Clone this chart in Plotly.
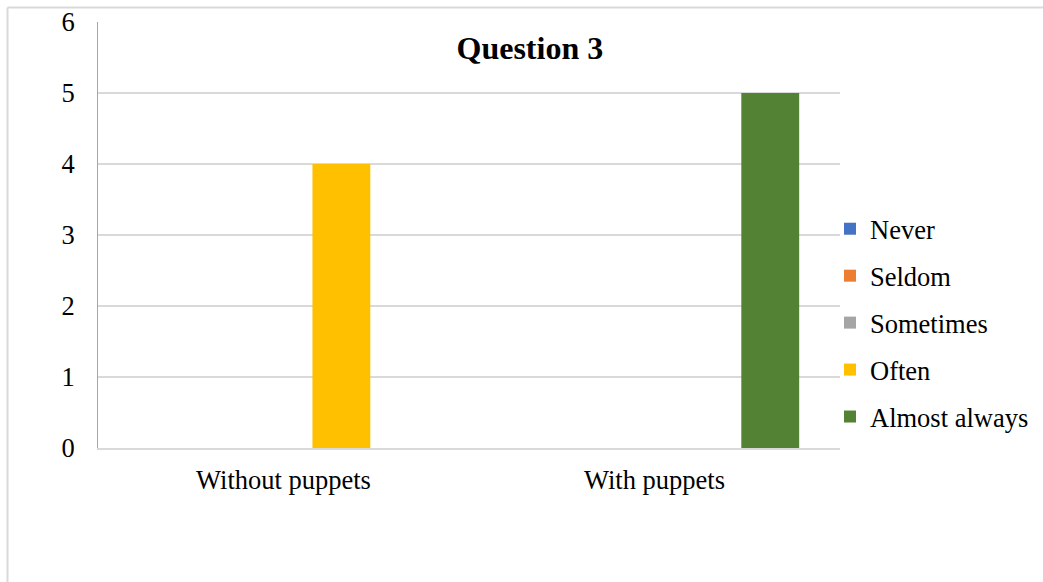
import plotly.graph_objects as go

# Survey responses for question 3, grouped by teaching condition
categories = ["Without puppets", "With puppets"]
series_names = ["Never", "Seldom", "Sometimes", "Often", "Almost always"]
never = [0, 0]
seldom = [0, 0]
sometimes = [0, 0]
often = [4, 0]
almost_always = [0, 5]
y_ticks = [0, 1, 2, 3, 4, 5, 6]

series_values = [never, seldom, sometimes, often, almost_always]
colors = ["#4472C4", "#ED7D31", "#A5A5A5", "#FFC000", "#548235"]

W, H = 1043, 582
FONT = "Liberation Serif, Times New Roman, serif"
FS = 26.5

fig = go.Figure()
for name, vals, col in zip(series_names, series_values, colors):
    fig.add_trace(go.Bar(
        x=categories, y=vals, name=name, marker_color=col,
        marker_line_width=0, legendgroup=name,
    ))

fig.update_layout(
    width=W, height=H,
    margin=dict(l=98, r=203, t=22, b=134, autoexpand=False),
    paper_bgcolor="white", plot_bgcolor="white",
    font=dict(family=FONT, size=FS, color="black"),
    barmode="group", bargap=0.22, bargroupgap=0,
    title=dict(text="<b>Question 3</b>", x=0.508, xanchor="center",
               y=1 - 48 / H, yanchor="middle",
               font=dict(family=FONT, size=32, color="black")),
    showlegend=True,
    legend=dict(x=1 - 10 / 742, xanchor="left", y=(448 - 323) / 426, yanchor="middle",
                font=dict(family=FONT, size=FS, color="black"),
                tracegroupgap=9.5, itemwidth=30,
                bgcolor="rgba(0,0,0,0)"),
    xaxis=dict(showgrid=False, showline=True, linecolor="#d9d9d9", linewidth=2,
               ticks="", ticklabelstandoff=7, zeroline=False),
    yaxis=dict(range=[0, 6], tickvals=y_ticks, showgrid=True,
               gridcolor="#d9d9d9", gridwidth=1.5, zeroline=False,
               showline=True, linecolor="#a6a6a6", linewidth=1,
               ticks="", ticklabelstandoff=17),
    shapes=[
        # outer chart-area border (top and left edges visible)
        dict(type="line", xref="paper", yref="paper",
             x0=(7.5 - 98) / 742, x1=(W - 98) / 742,
             y0=1 + (22 - 7.5) / 426, y1=1 + (22 - 7.5) / 426,
             line=dict(color="#d9d9d9", width=2)),
        dict(type="line", xref="paper", yref="paper",
             x0=(7.5 - 98) / 742, x1=(7.5 - 98) / 742,
             y0=-(H - 448) / 426, y1=1 + (22 - 7.5) / 426,
             line=dict(color="#d9d9d9", width=2)),
    ],
)

fig.write_html("out.html")
